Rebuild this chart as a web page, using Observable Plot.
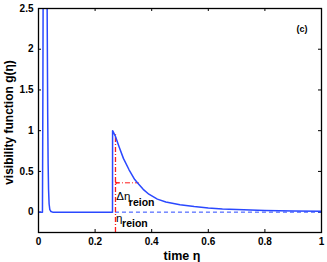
<!DOCTYPE html>
<html><head><meta charset="utf-8">
<script src="https://cdn.jsdelivr.net/npm/d3@7"></script>
<script src="https://cdn.jsdelivr.net/npm/@observablehq/plot@0.6"></script>
<style>
body{margin:0;background:#fff}
svg{font-family:"Liberation Sans",Arial,Helvetica,sans-serif}
</style>
</head><body><div id="chart"></div>
<script>
// visibility function curve
const eta = [0, 0.014, 0.0155, 0.017, 0.019, 0.022, 0.026, 0.0295, 0.031, 0.0325, 0.034, 0.0355, 0.0375, 0.040, 0.044, 0.05, 0.1, 0.2, 0.2615, 0.2618, 0.272, 0.285, 0.30, 0.32, 0.34, 0.355, 0.37, 0.39, 0.42, 0.45, 0.50, 0.55, 0.60, 0.65, 0.70, 0.75, 0.80, 0.90, 1.0];
const g   = [0, 0, 1.5, 3.5, 5.5, 7.0, 5.5, 3.2, 2.2, 1.2, 0.6, 0.28, 0.1, 0.03, 0.008, 0, 0, 0, 0, 1.0, 0.93, 0.80, 0.66, 0.52, 0.40, 0.34, 0.28, 0.22, 0.16, 0.125, 0.09, 0.068, 0.052, 0.04, 0.032, 0.026, 0.02, 0.014, 0.01];

// annotations
const etaReion = [0.272];
const reionTop = [0.95];
const deltaLevel = [0.36];
const deltaEnd = [0.356];
const baselineValue = [0];

const xTicks = [0, 0.2, 0.4, 0.6, 0.8, 1];
const xTickLabels = ["0", "0.2", "0.4", "0.6", "0.8", "1"];
const yTicks = [0, 0.5, 1, 1.5, 2, 2.5];
const yTickLabels = ["0", "0.5", "1", "1.5", "2", "2.5"];

const xDomain = [0, 1];
const yDomain = [-0.25, 2.5];

const labelDelta = [{x: 0.275, y: 0.19, main: "Δη", sub: "reion"}];
const labelEta = [{x: 0.274, y: -0.07, main: "η", sub: "reion"}];

const curve = eta.map((e, i) => ({eta: e, g: g[i]}));
const blue = "#2a48ff";
const red = "#ff1a1a";
const dashDot = "5,2,1,2";

const plot = Plot.plot({
  width: 327,
  height: 262,
  marginLeft: 38,
  marginRight: 6,
  marginTop: 8,
  marginBottom: 30,
  x: {domain: xDomain},
  y: {domain: yDomain},
  style: {fontFamily: "Liberation Sans, Arial, sans-serif", background: "#fff"},
  marks: [
    // inward ticks on all four sides
    Plot.ruleX(xTicks, {insetTop: 221, stroke: "#000"}),
    Plot.ruleX(xTicks, {insetBottom: 221, stroke: "#000"}),
    Plot.ruleY(yTicks, {insetRight: 280, stroke: "#000"}),
    Plot.ruleY(yTicks, {insetLeft: 280, stroke: "#000"}),
    Plot.axisX({ticks: xTicks, tickSize: 0, tickPadding: 5, tickFormat: (d, i) => xTickLabels[i], fontSize: 10, fontWeight: "bold", label: null}),
    Plot.axisY({ticks: yTicks, tickSize: 0, tickPadding: 5, tickFormat: (d, i) => yTickLabels[i], fontSize: 10, fontWeight: "bold", label: null}),
    // reionization markers
    Plot.ruleY(baselineValue, {x1: etaReion[0], x2: xDomain[1], stroke: blue, strokeWidth: 1, strokeDasharray: "4,3"}),
    Plot.ruleX(etaReion, {y1: yDomain[0], y2: reionTop[0], stroke: red, strokeWidth: 1.3, strokeDasharray: dashDot}),
    Plot.ruleY(deltaLevel, {x1: etaReion[0], x2: deltaEnd[0], stroke: red, strokeWidth: 1, strokeDasharray: dashDot}),
    Plot.arrow(deltaLevel, {x1: etaReion[0] + 0.012, x2: etaReion[0] + 0.001, y1: d => d, y2: d => d, stroke: red, strokeWidth: 1, headLength: 4}),
    // curve
    Plot.line(curve, {x: "eta", y: "g", stroke: blue, strokeWidth: 1.5, clip: true}),
    // annotation labels
    Plot.text(labelDelta, {x: "x", y: "y", text: "main", textAnchor: "start", fontSize: 11.5, fill: "#000"}),
    Plot.text(labelDelta, {x: "x", y: "y", text: "sub", textAnchor: "start", dx: 12.5, dy: 6, fontSize: 10.5, fontWeight: "bold", fill: "#000"}),
    Plot.text(labelEta, {x: "x", y: "y", text: "main", textAnchor: "start", fontSize: 11.5, fill: "#000"}),
    Plot.text(labelEta, {x: "x", y: "y", text: "sub", textAnchor: "start", dx: 6, dy: 6, fontSize: 10.5, fontWeight: "bold", fill: "#000"}),
    // panel tag
    Plot.text(["(c)"], {frameAnchor: "top-right", dx: -14, dy: 17, fontSize: 9, fontWeight: "bold", fill: "#000"}),
    // axis titles
    Plot.text(["visibility function g(η)"], {frameAnchor: "left", textAnchor: "middle", lineAnchor: "middle", dx: -29, dy: 2, rotate: -90, fontSize: 12, fontWeight: "bold", fill: "#000"}),
    Plot.text(["time η"], {frameAnchor: "bottom", textAnchor: "middle", lineAnchor: "bottom", dy: 27, dx: 2, fontSize: 12.5, fontWeight: "bold", fill: "#000"}),
    Plot.frame({stroke: "#000", strokeWidth: 1.3})
  ]
});
document.getElementById("chart").appendChild(plot);
</script>
</body></html>
